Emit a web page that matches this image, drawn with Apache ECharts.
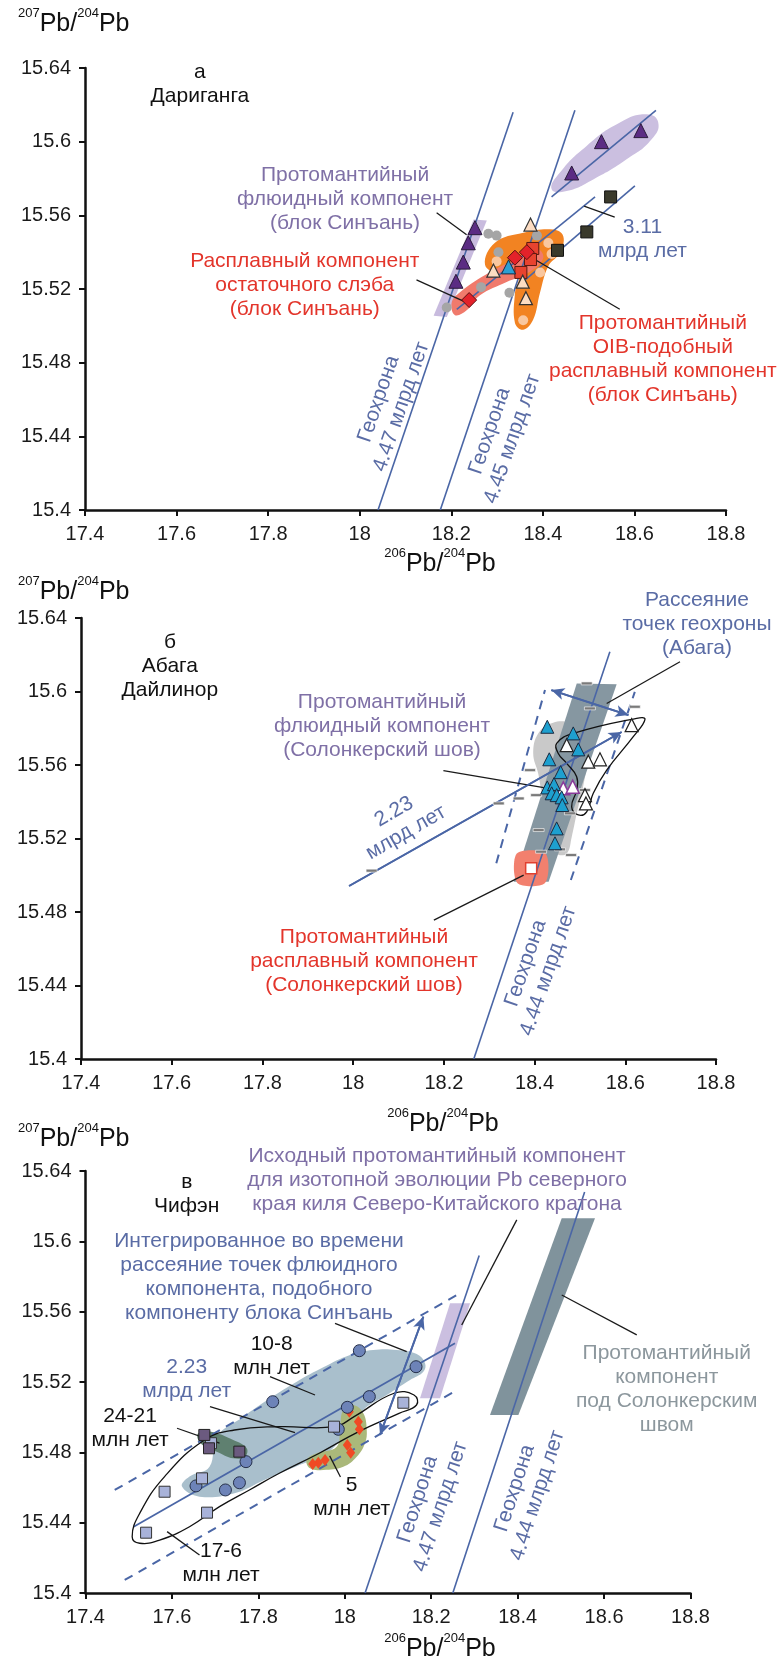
<!DOCTYPE html>
<html><head><meta charset="utf-8">
<script src="https://cdn.jsdelivr.net/npm/echarts@6/dist/echarts.min.js"></script>
<style>html,body{margin:0;padding:0;background:#fff}#c{width:781px;height:1665px}</style>
</head><body><div id="c"></div>
<script>
// ---------- axis ticks ----------
const xTicks = {min:17.4, max:18.8, interval:0.2};
const yTicks = {min:15.4, max:15.64, interval:0.04};

// ---------- Panel a (Дариганга) ----------
const a_purpleTri = [[18.2517,15.5533],[18.2371,15.5451],[18.2262,15.5346],[18.2102,15.5242],[18.463,15.583],[18.528,15.600],[18.614,15.606]];
const a_blackSq = [[18.548,15.570],[18.496,15.551],[18.432,15.541]];
const a_redSq = [[18.378,15.542],[18.373,15.536],[18.352,15.529]];
const a_redDia = [[18.239,15.514],[18.339,15.537],[18.365,15.540]];
const a_openTri = [[18.373,15.555],[18.292,15.530],[18.356,15.524],[18.363,15.515]];
const a_blueTri = [[18.325,15.532]];
const a_grayDot = [[18.281,15.550],[18.299,15.549],[18.190,15.510],[18.265,15.521],[18.327,15.518],[18.303,15.540],[18.387,15.549]];
const a_orangeDot = [[18.299,15.535],[18.357,15.503],[18.412,15.545],[18.419,15.539],[18.394,15.529]];
const a_geo447 = [[18.04,15.40],[18.335,15.616]];
const a_geo445 = [[18.176,15.40],[18.470,15.617]];
const a_iso311a = [[18.212,15.509],[18.514,15.570]];
const a_iso311b = [[18.357,15.524],[18.601,15.576]];
const a_purpleLine = [[18.419,15.570],[18.647,15.617]];
const a_leaders = [[[18.168,15.5614],[18.2335,15.5495]],[[18.124,15.525],[18.23,15.513]],[[18.568,15.509],[18.376,15.537]],[[18.557,15.559],[18.49,15.565]]];
const a_purpleBand = [[18.1614,15.5055],[18.1902,15.5048],[18.2776,15.5572],[18.2487,15.5578]];
const a_orangeField = [[18.2736,15.5333],[18.2954,15.5451],[18.3572,15.5505],[18.4227,15.5523],[18.4446,15.5487],[18.4373,15.5397],[18.4118,15.5324],[18.3937,15.5179],[18.3790,15.5034],[18.3572,15.4979],[18.3391,15.5016],[18.3391,15.5179],[18.3463,15.5269],[18.3063,15.5279]];
const a_salmonField = [[18.2008,15.5125],[18.2190,15.5182],[18.2845,15.5292],[18.3354,15.5355],[18.3865,15.5418],[18.4009,15.5369],[18.3718,15.5294],[18.3209,15.5238],[18.2626,15.5166],[18.2336,15.5084],[18.2081,15.5058]];
const a_ellipse = [[18.4192,15.5741],[18.4373,15.5832],[18.4956,15.5977],[18.5684,15.6104],[18.6267,15.6149],[18.652,15.6104],[18.6376,15.6013],[18.5829,15.5904],[18.51,15.5795],[18.452,15.5732]];
const a_texts = [
 {t:'а\nДариганга', at:[17.651,15.631], c:'k'},
 {t:'Протомантийный\nфлюидный компонент\n(блок Синъань)', at:[17.968,15.5687], c:'p'},
 {t:'Расплавный компонент\nостаточного слэба\n(блок Синъань)', at:[17.880,15.5219], c:'r'},
 {t:'Протомантийный\nOIB-подобный\nрасплавный компонент\n(блок Синъань)', at:[18.662,15.4819], c:'r'},
 {t:'3.11\nмлрд лет', at:[18.6175,15.5469], c:'b'},
 {t:'Геохрона\n4.47 млрд лет', at:[18.066,15.4582], c:'b', rot:71},
 {t:'Геохрона\n4.45 млрд лет', at:[18.3085,15.4408], c:'b', rot:71}
];

// ---------- Panel b (Абага, Дайлинор) ----------
const b_blueTri = [[18.428,15.5808],[18.4853,15.5772],[18.4964,15.5685],[18.4324,15.5631],[18.4575,15.5561],[18.428,15.5478],[18.4428,15.5496],[18.4377,15.5446],[18.4487,15.5436],[18.4597,15.5424],[18.4611,15.5382],[18.4487,15.5255],[18.445,15.5174]];
const b_purpleOpenTri = [[18.4633,15.5473],[18.484,15.5482]];
const b_openTri = [[18.4708,15.5708],[18.5184,15.5618],[18.5442,15.5631],[18.5111,15.5436],[18.5133,15.5391],[18.614,15.5817]];
const b_dash = [[18.515,15.6044],[18.522,15.5908],[18.621,15.5917],[18.39,15.5572],[18.478,15.5337],[18.409,15.5246],[18.511,15.5464],[18.456,15.5141],[18.321,15.5391],[18.365,15.5418],[18.4035,15.5436],[18.4144,15.5128],[18.4805,15.511],[18.0407,15.5025]];
const b_redSq = [[18.3925,15.5038]];
const b_geo444 = [[18.266,15.40],[18.566,15.6216]];
const b_dashL = [[18.3156,15.5065],[18.423,15.6008]];
const b_dashR = [[18.480,15.4974],[18.621,15.5998]];
const b_iso223 = [[17.991,15.4941],[18.592,15.578]];
const b_arrow = [[18.437,15.6008],[18.607,15.5872]];
const b_leaders = [[[18.199,15.5569],[18.430,15.5473]],[[18.7206,15.6162],[18.559,15.5935]],[[18.178,15.4756],[18.376,15.5001]]];
const b_darkBand = [[18.354,15.4965],[18.431,15.4965],[18.581,15.604],[18.493,15.6044]];
const b_lightField = [[18.408,15.5772],[18.441,15.583],[18.478,15.5826],[18.504,15.5754],[18.515,15.5627],[18.507,15.5482],[18.493,15.5337],[18.482,15.521],[18.471,15.5119],[18.449,15.5119],[18.438,15.5228],[18.427,15.5337],[18.416,15.5446],[18.408,15.5554],[18.397,15.5663]];
const b_salmonField = [[18.362,15.4958],[18.423,15.4958],[18.424,15.5118],[18.361,15.5118]];
const b_outline = [[18.4487,15.5718],[18.4853,15.5772],[18.6251,15.5854],[18.6434,15.5848],[18.6176,15.5754],[18.559,15.5572],[18.5294,15.5446],[18.5149,15.5345],[18.4964,15.5328],[18.4818,15.5373],[18.4928,15.5464],[18.4928,15.5536],[18.4708,15.5609],[18.4523,15.5663]];
const b_texts = [
 {t:'б\nАбага\nДайлинор', at:[17.596,15.6138], c:'k'},
 {t:'Протомантийный\nфлюидный компонент\n(Солонкерский шов)', at:[18.0636,15.5812], c:'p'},
 {t:'Рассеяние\nточек геохроны\n(Абага)', at:[18.758,15.6367], c:'b'},
 {t:'2.23\nмлрд лет', at:[18.1033,15.5289], c:'b', rot:30},
 {t:'Протомантийный\nрасплавный компонент\n(Солонкерский шов)', at:[18.0239,15.4533], c:'r'},
 {t:'Геохрона\n4.44 млрд лет', at:[18.4053,15.45], c:'b', rot:71}
];

// ---------- Panel c (Чифэн) ----------
const c_circles = [[18.0337,15.5378],[18.1649,15.5287],[18.0568,15.5117],[18.0059,15.5056],[17.985,15.4931],[17.8332,15.5088],[17.7714,15.4747],[17.7562,15.4627],[17.7238,15.4586],[17.6557,15.4609]];
const c_lightSq = [[18.1355,15.5082],[17.9751,15.4946],[17.6904,15.4852],[17.6696,15.4652],[17.583,15.4576],[17.6812,15.4457],[17.5402,15.4343]];
const c_darkSq = [[17.675,15.4899],[17.6858,15.4823],[17.756,15.4804]];
const c_redDia = [[18.0105,15.5031],[18.0314,15.4974],[18.0337,15.4931],[18.0059,15.4842],[18.0137,15.4798],[17.9388,15.4741],[17.9543,15.4757],[17.9258,15.4734]];
const c_geo447 = [[18.047,15.40],[18.311,15.592]];
const c_geo444 = [[18.250,15.40],[18.555,15.628]];
const c_iso223 = [[17.5115,15.4377],[18.255,15.542]];
const c_dashU = [[17.4676,15.4586],[18.2667,15.5705]];
const c_dashL = [[17.4907,15.4074],[18.25,15.514]];
const c_arrow = [[18.1818,15.5572],[18.0816,15.4899]];
const c_leaders = [[[17.9774,15.5534],[18.1433,15.5373]],[[18.398,15.6122],[18.2706,15.5524]],[[18.502,15.5695],[18.6756,15.5468]],[[17.827,15.523],[17.9311,15.5126]],[[17.6881,15.506],[17.8848,15.4912]],[[17.6118,15.4937],[17.7101,15.4852]],[[17.5888,15.4349],[17.6638,15.4216]],[[17.965,15.478],[17.99,15.466]]];
const c_purpleBand = [[18.1741,15.5108],[18.2204,15.5108],[18.2899,15.5648],[18.2436,15.5648]];
const c_darkBand = [[18.336,15.5013],[18.4017,15.5013],[18.579,15.6131],[18.502,15.6131]];
const c_blueField = [[17.6233,15.4605],[17.6638,15.4548],[17.7446,15.4567],[17.8138,15.4643],[17.8948,15.4728],[17.964,15.4804],[18.0429,15.5041],[18.0971,15.5126],[18.151,15.5212],[18.1818,15.5259],[18.1857,15.5307],[18.1665,15.5359],[18.1202,15.5382],[18.066,15.5382],[18.0121,15.5354],[17.9503,15.5284],[17.8888,15.5202],[17.827,15.5108],[17.7652,15.5003],[17.7036,15.4889],[17.687,15.4718],[17.6407,15.4662]];
const c_greenField = [[17.9966,15.5041],[18.0198,15.5069],[18.0429,15.5022],[18.0508,15.4927],[18.0468,15.4852],[18.0276,15.4775],[17.9966,15.4718],[17.9503,15.47],[17.9196,15.4709],[17.9119,15.4757],[17.9351,15.4795],[17.9813,15.4832],[17.989,15.4946]];
const c_darkGreenField = [[17.661,15.4908],[17.6881,15.4918],[17.742,15.487],[17.773,15.4823],[17.7691,15.4775],[17.742,15.4766],[17.7036,15.4804],[17.6766,15.4832],[17.661,15.487]];
const c_outline = [[17.508,15.432],[17.5254,15.4453],[17.583,15.4662],[17.6754,15.487],[17.7446,15.4927],[17.8485,15.4946],[17.9756,15.4946],[18.0216,15.5003],[18.114,15.5136],[18.1602,15.5126],[18.166,15.5069],[18.1255,15.5022],[18.0563,15.4946],[18.01,15.4889],[17.9409,15.4795],[17.8485,15.4681],[17.7793,15.4586],[17.7101,15.4491],[17.6407,15.4377],[17.5715,15.4301],[17.5254,15.4283]];
const c_texts = [
 {t:'в\nЧифэн', at:[17.6342,15.627], c:'k'},
 {t:'Исходный протомантийный компонент\nдля изотопной эволюции Pb северного\nкрая киля Северо-Китайского кратона', at:[18.2135,15.6349], c:'p'},
 {t:'Интегрированное во времени\nрассеяние точек флюидного\nкомпонента, подобного\nкомпоненту блока Синъань', at:[17.8015,15.5797], c:'b'},
 {t:'10-8\nмлн лет', at:[17.8309,15.5348], c:'k'},
 {t:'2.23\nмлрд лет', at:[17.6342,15.5217], c:'b'},
 {t:'24-21\nмлн лет', at:[17.503,15.4937], c:'k'},
 {t:'5\nмлн лет', at:[18.0158,15.4546], c:'k'},
 {t:'17-6\nмлн лет', at:[17.7136,15.4169], c:'k'},
 {t:'Протомантийный\nкомпонент\nпод Солонкерским\nшвом', at:[18.745,15.516], c:'g'},
 {t:'Геохрона\n4.47 млрд лет', at:[18.195,15.4512], c:'b', rot:72},
 {t:'Геохрона\n4.44 млрд лет', at:[18.4195,15.4575], c:'b', rot:72}
];

// ---------- styling ----------
const FONT = '"Liberation Sans", Arial, sans-serif';
const BLUE = '#4a66a6';
const TXT = {k:'#111111', p:'#7f70a6', r:'#e3352b', b:'#5a6ca5', g:'#8c979d'};

function poly(gi, pts, fill, smooth, z){
  return {type:'custom', xAxisIndex:gi, yAxisIndex:gi, data:[pts[0]], silent:true, z:z||1, clip:false,
    renderItem:(p, api)=>({type:'polygon', shape:{points:pts.map(q=>api.coord(q)), smooth:smooth||0}, style:{fill:fill, stroke:'none'}})};
}
function outline(gi, pts, z){
  return {type:'custom', xAxisIndex:gi, yAxisIndex:gi, data:[pts[0]], silent:true, z:z||4, clip:false,
    renderItem:(p, api)=>({type:'polygon', shape:{points:pts.map(q=>api.coord(q)), smooth:0.45}, style:{fill:'none', stroke:'#111', lineWidth:1.3}})};
}
function line(gi, pts, color, width, dash, arrows, z){
  const s = {type:'line', xAxisIndex:gi, yAxisIndex:gi, data:pts, showSymbol:false, symbol:'none', silent:true, z:z||3,
    lineStyle:{color:color, width:width, type:dash||'solid'}};
  if (arrows) s.markLine = {silent:true, symbol:arrows, symbolSize:[9,13], label:{show:false}, animation:false,
    lineStyle:{color:color, width:width, type:'solid'}, emphasis:{disabled:true},
    data:[[{coord:pts[0]},{coord:pts[pts.length-1]}]]};
  return s;
}
function leaders(gi, list){ return list.map(l=>line(gi, l, '#1a1a1a', 1.3, 'solid', null, 3)); }
function sc(gi, data, sym, size, color, border, bw, z){
  return {type:'scatter', xAxisIndex:gi, yAxisIndex:gi, data:data, symbol:sym, symbolSize:size, silent:true, z:z||5,
    itemStyle:{color:color, borderColor:border||color, borderWidth:border?(bw||1):0, opacity:1}};
}
function texts(gi, items){
  return {type:'custom', xAxisIndex:gi, yAxisIndex:gi, data:items.map(t=>t.at), silent:true, z:10, clip:false,
    renderItem:(p, api)=>{
      const t = items[p.dataIndex]; const c = api.coord(t.at);
      return {type:'text', x:c[0], y:c[1], rotation:(t.rot||0)*Math.PI/180,
        style:{text:t.t, fill:TXT[t.c], font:'21px '+FONT, fontSize:21, fontFamily:FONT, align:'center', verticalAlign:'middle', lineHeight:24}};
    }};
}

const grids = [
  {left:85, top:68, width:641, height:442},
  {left:81, top:618, width:635, height:441},
  {left:85.5, top:1171, width:605, height:422}
];
const axisCommon = {
  type:'value', splitLine:{show:false},
  axisLine:{onZero:false, lineStyle:{color:'#111', width:2.5}},
  axisTick:{show:true, length:6, lineStyle:{color:'#111', width:2}},
  axisLabel:{fontSize:20, color:'#1a1a1a', fontFamily:FONT}
};
const xAxes = grids.map((g,i)=>Object.assign({}, axisCommon, {gridIndex:i, min:xTicks.min, max:xTicks.max, interval:xTicks.interval,
  axisLabel:Object.assign({}, axisCommon.axisLabel, {margin:14})}));
const yAxes = grids.map((g,i)=>Object.assign({}, axisCommon, {gridIndex:i, min:yTicks.min, max:yTicks.max, interval:yTicks.interval,
  axisLabel:Object.assign({}, axisCommon.axisLabel, {margin:14})}));

const series = [
  // panel a
  poly(0, a_ellipse, '#cbbfe0', 0.5),
  poly(0, a_purpleBand, '#c8bbde', 0),
  poly(0, a_orangeField, '#f28322', 0.4),
  poly(0, a_salmonField, '#f07a6c', 0.4),
  line(0, a_geo447, BLUE, 1.6), line(0, a_geo445, BLUE, 1.6),
  line(0, a_iso311a, BLUE, 1.6), line(0, a_iso311b, BLUE, 1.6), line(0, a_purpleLine, BLUE, 1.6),
  ...leaders(0, a_leaders),
  sc(0, a_grayDot, 'circle', 10, '#a5a5a5'),
  sc(0, a_orangeDot, 'circle', 10, '#f9c79f'),
  sc(0, a_purpleTri, 'triangle', 14, '#5b2c83', '#2a1a3a', 1),
  sc(0, a_blackSq, 'rect', 12, '#3a3a2c', '#111', 1),
  sc(0, a_redSq, 'rect', 12, '#e8432f', '#5a1a10', 1),
  sc(0, a_redDia, 'diamond', 15, '#e3222a', '#5a1010', 1),
  sc(0, a_openTri, 'triangle', 13, '#fcdcc2', '#333', 1.2),
  sc(0, a_blueTri, 'triangle', 14, '#2d9fd3', '#1a2a40', 1),
  texts(0, a_texts),
  // panel b
  poly(1, b_lightField, '#c9c9c9', 0.4),
  poly(1, b_darkBand, '#8697a1', 0),
  poly(1, b_salmonField, '#f2806e', 0.3),
  line(1, b_geo444, BLUE, 1.6),
  line(1, b_dashL, BLUE, 2, [9,7]), line(1, b_dashR, BLUE, 2, [9,7]),
  line(1, b_iso223, BLUE, 1.8, 'solid', ['none','arrow']),
  line(1, b_arrow, BLUE, 1.8, 'solid', ['arrow','arrow']),
  outline(1, b_outline),
  ...leaders(1, b_leaders),
  sc(1, b_dash, 'rect', [11,3], '#7a7a7a', '#ffffff', 0.5),
  sc(1, b_openTri, 'triangle', 13, '#ffffff', '#222', 1.2),
  sc(1, b_purpleOpenTri, 'triangle', 13, '#ffffff', '#8a3a9a', 1.5),
  sc(1, b_blueTri, 'triangle', 13, '#1ea0cf', '#1a2a40', 1),
  sc(1, b_redSq, 'rect', 11, '#ffffff', '#e04030', 1.5),
  texts(1, b_texts),
  // panel c
  poly(2, c_blueField, '#a9bfcc', 0.4),
  poly(2, c_greenField, '#aab87a', 0.4),
  poly(2, c_darkGreenField, '#5f8070', 0.4),
  poly(2, c_purpleBand, '#cbbfe0', 0),
  poly(2, c_darkBand, '#80939c', 0),
  line(2, c_geo447, BLUE, 1.6), line(2, c_geo444, BLUE, 1.6),
  line(2, c_iso223, BLUE, 1.8),
  line(2, c_dashU, BLUE, 2, [9,7]), line(2, c_dashL, BLUE, 2, [9,7]),
  line(2, c_arrow, BLUE, 1.8, 'solid', ['arrow','arrow']),
  outline(2, c_outline),
  ...leaders(2, c_leaders),
  sc(2, c_redDia, 'diamond', [9,12], '#f04a24'),
  sc(2, c_circles, 'circle', 12, '#6d83b8', '#26304a', 1),
  sc(2, c_lightSq, 'rect', 11, '#a8b2d9', '#333', 1),
  sc(2, c_darkSq, 'rect', 11, '#6b5a7f', '#222', 1),
  texts(2, c_texts)
];

function title(x, y, first, align){
  return {type:'text', x:x, y:y, silent:true, style:{text:'{s|'+first+'}{b|Pb/}{s|204}{b|Pb}', align:align, verticalAlign:'middle',
    rich:{s:{fontSize:13, fontFamily:FONT, fill:'#111', verticalAlign:'top', lineHeight:14},
          b:{fontSize:25, fontFamily:FONT, fill:'#111', verticalAlign:'bottom', lineHeight:30}}}};
}

const chart = echarts.init(document.getElementById('c'), null, {renderer:'canvas'});
chart.setOption({
  animation:false, backgroundColor:'#fff',
  grid: grids, xAxis: xAxes, yAxis: yAxes, series: series,
  graphic: [title(18, 22, '207', 'left'), title(440, 562, '206', 'center'), title(18, 590, '207', 'left'),
            title(443, 1122, '206', 'center'), title(18, 1137, '207', 'left'), title(440, 1647, '206', 'center')]
});
</script></body></html>
